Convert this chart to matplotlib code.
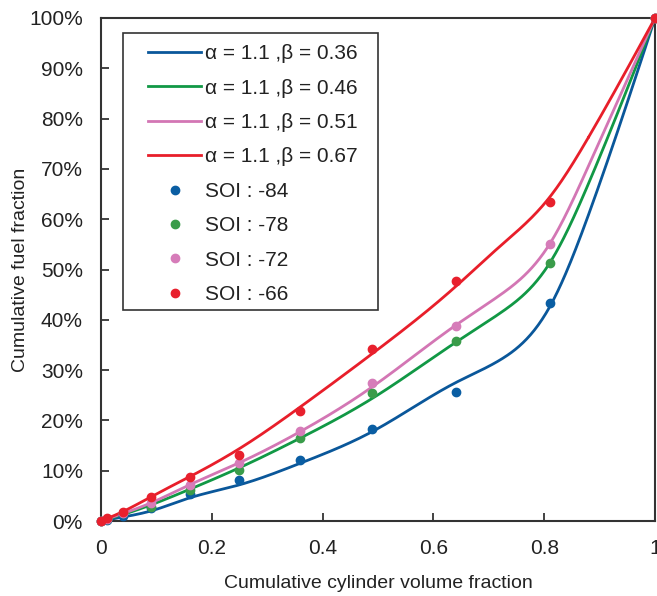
import numpy as np
import matplotlib
matplotlib.use("Agg")
import matplotlib.pyplot as plt
from matplotlib.patches import Rectangle
from matplotlib.ticker import PercentFormatter

plt.rcParams['font.family'] = ['Liberation Sans', 'DejaVu Sans']

# model curves (alpha = 1.1), % fuel
x_fit = [0, 0.04, 0.09, 0.16, 0.25, 0.36, 0.49, 0.64, 0.72, 0.81, 0.88, 1.0]
fit_036 = [0, 0.8, 2.0, 4.6, 7.2, 11.5, 17.8, 27.5, 32.0, 42.6, 60.9, 100]
fit_046 = [0, 1.3, 3.2, 6.3, 10.6, 16.5, 24.4, 35.5, 41.3, 51.3, 67.1, 100]
fit_051 = [0, 1.5, 3.6, 7.2, 11.6, 17.8, 26.7, 38.9, 44.9, 55.1, 70.6, 100]
fit_067 = [0, 1.9, 4.8, 8.8, 14.4, 22.7, 33.3, 46.6, 54.6, 64.4, 76.3, 100]

# measured points (cumulative cylinder volume fraction), % fuel
x = [0, 0.01, 0.04, 0.09, 0.16, 0.25, 0.36, 0.49, 0.64, 0.81, 1.0]
soi_84 = [0, 0.3, 1.0, 2.5, 5.4, 8.2, 12.1, 18.3, 25.6, 43.3, 100]
soi_78 = [0, 0.4, 1.5, 2.8, 6.2, 10.1, 16.5, 25.4, 35.8, 51.3, 100]
soi_72 = [0, 0.5, 1.6, 3.5, 7.2, 11.5, 17.9, 27.4, 38.8, 55.1, 100]
soi_66 = [0, 0.6, 1.8, 4.8, 8.7, 13.1, 21.9, 34.2, 47.7, 63.4, 100]

fit_labels = ['α = 1.1 ,β = 0.36', 'α = 1.1 ,β = 0.46',
              'α = 1.1 ,β = 0.51', 'α = 1.1 ,β = 0.67']
soi_labels = ['SOI : -84', 'SOI : -78', 'SOI : -72', 'SOI : -66']
line_colors = ['#0a579a', '#119845', '#d376b4', '#e81e2a']
dot_colors = ['#0a5ea3', '#3a9c4a', '#d67cb9', '#e8202d']


def smooth(xs, ys, n=40):
    # natural cubic spline through the points
    xs = np.asarray(xs, float)
    ys = np.asarray(ys, float)
    k = len(xs)
    h = np.diff(xs)
    A = np.zeros((k, k))
    r = np.zeros(k)
    A[0, 0] = A[-1, -1] = 1
    for i in range(1, k - 1):
        A[i, i - 1] = h[i - 1]
        A[i, i] = 2 * (h[i - 1] + h[i])
        A[i, i + 1] = h[i]
        r[i] = 6 * ((ys[i + 1] - ys[i]) / h[i] - (ys[i] - ys[i - 1]) / h[i - 1])
    M = np.linalg.solve(A, r)
    ox, oy = [], []
    for i in range(k - 1):
        t = np.linspace(xs[i], xs[i + 1], n)
        a = xs[i + 1] - t
        b = t - xs[i]
        y = (M[i] * a**3 + M[i + 1] * b**3) / (6 * h[i]) \
            + (ys[i] / h[i] - M[i] * h[i] / 6) * a + (ys[i + 1] / h[i] - M[i + 1] * h[i] / 6) * b
        ox.append(t)
        oy.append(y)
    return np.concatenate(ox), np.concatenate(oy)


fig = plt.figure(figsize=(6.57, 5.96), dpi=100)
ax = fig.add_axes([0.1537, 0.1258, 0.8433, 0.844])

fits = [fit_036, fit_046, fit_051, fit_067]
sois = [soi_84, soi_78, soi_72, soi_66]
for f, lab, c in zip(fits, fit_labels, line_colors):
    sx, sy = smooth(x_fit, f)
    ax.plot(sx, sy, color=c, lw=2, label=lab)
for s, lab, c in zip(sois, soi_labels, dot_colors):
    ax.plot(x, s, 'o', color=c, ms=6, label=lab, zorder=3, clip_on=False)

ax.set_xlim(0, 1)
ax.set_ylim(0, 100)
ax.set_xticks([0, 0.2, 0.4, 0.6, 0.8, 1])
ax.set_xticklabels(['0', '0.2', '0.4', '0.6', '0.8', '1'])
ax.set_yticks(np.arange(0, 101, 10))
ax.yaxis.set_major_formatter(PercentFormatter(decimals=0))
ax.tick_params(direction='in', length=6, width=1.2, labelsize=15, colors='#222222')
ax.tick_params(axis='x', pad=13)
ax.tick_params(axis='y', pad=13)
for sp in ax.spines.values():
    sp.set_linewidth(1.5)
    sp.set_color('#333333')

ax.set_xlabel('Cumulative cylinder volume fraction', fontsize=14, labelpad=12, color='#222222')
ax.set_ylabel('Cumulative fuel fraction', fontsize=14, labelpad=0, color='#222222')

# legend frame drawn separately so the entries can sit inset like the original
ax.add_patch(Rectangle((0.0397, 0.4195), 0.4603, 0.5505, transform=ax.transAxes,
                       facecolor='white', edgecolor='#333333', lw=1.2, zorder=4))
leg = ax.legend(loc='upper left', bbox_to_anchor=(0.0848, 0.948), borderaxespad=0,
                fontsize=15, frameon=False, handlelength=2.55, handletextpad=0.2,
                labelspacing=0.74, borderpad=0)
leg.set_zorder(5)
for t in leg.get_texts():
    t.set_color('#222222')

fig.savefig('out.png', dpi=100)
